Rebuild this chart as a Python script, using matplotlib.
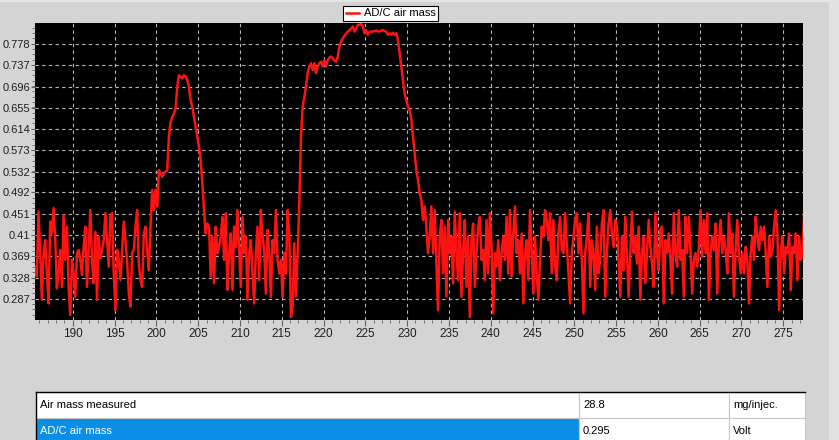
import numpy as np
import matplotlib.pyplot as plt
from matplotlib.patches import Rectangle
from matplotlib.ticker import MultipleLocator, AutoMinorLocator

plt.rcParams['font.family'] = ['Liberation Sans', 'DejaVu Sans']

# AD/C air mass signal (Volt), sampled every 0.2 s from t = 185.5
t_start = 185.5
t_step = 0.2
air_mass = [
    # idle, 185.5 .. 200.7
    0.349, 0.330, 0.455, 0.375, 0.285, 0.375, 0.400, 0.336, 0.278, 0.436,
    0.413, 0.462, 0.400, 0.307, 0.336, 0.381, 0.310, 0.448, 0.362, 0.426,
    0.310, 0.256, 0.362, 0.336, 0.291, 0.375, 0.381, 0.362, 0.333, 0.387,
    0.426, 0.310, 0.381, 0.458, 0.362, 0.317, 0.416, 0.285, 0.407, 0.365,
    0.381, 0.400, 0.452, 0.400, 0.349, 0.445, 0.452, 0.336, 0.265, 0.381,
    0.362, 0.323, 0.381, 0.436, 0.400, 0.359, 0.297, 0.272, 0.375, 0.381,
    0.426, 0.458, 0.355, 0.323, 0.310, 0.413, 0.426, 0.381, 0.342, 0.426,
    0.497, 0.458, 0.497, 0.465, 0.535, 0.529, 0.522,
    # first bump + idle
    0.529, 0.532, 0.535, 0.600, 0.628, 0.638, 0.644, 0.654, 0.696, 0.718,
    0.715, 0.712, 0.718, 0.715, 0.709, 0.696, 0.670, 0.657, 0.638, 0.619,
    0.600, 0.580, 0.555, 0.510, 0.458, 0.413, 0.432, 0.426, 0.330, 0.407,
    0.317, 0.426, 0.375, 0.387, 0.407, 0.445, 0.362, 0.452, 0.304, 0.375,
    0.413, 0.304, 0.426, 0.387, 0.458, 0.381, 0.310, 0.445, 0.375, 0.407,
    0.285, 0.375, 0.400, 0.336, 0.278, 0.375, 0.426, 0.323, 0.458, 0.407,
    0.381, 0.297, 0.420, 0.375, 0.291, 0.400, 0.375, 0.458, 0.362, 0.336,
    0.362, 0.291, 0.375, 0.336, 0.458, 0.413, 0.252,
    # second bump
    0.272, 0.394, 0.291, 0.375, 0.471, 0.600, 0.657, 0.677, 0.696, 0.722,
    0.735, 0.741, 0.728, 0.741, 0.722, 0.735, 0.741, 0.744, 0.735, 0.747,
    0.735, 0.747, 0.752, 0.754, 0.751, 0.746, 0.744, 0.754, 0.773, 0.783,
    0.789, 0.794, 0.798, 0.802, 0.805, 0.808, 0.812, 0.802, 0.808, 0.815,
    0.815, 0.817, 0.812, 0.799, 0.805, 0.796, 0.802, 0.802, 0.802, 0.803,
    0.804, 0.803, 0.802, 0.804, 0.805, 0.803, 0.802, 0.796, 0.799, 0.796,
    0.800, 0.796, 0.799, 0.786, 0.760, 0.735, 0.709, 0.683, 0.670, 0.657,
    0.651, 0.632, 0.600, 0.567, 0.535, 0.516, 0.490,
    # idle
    0.477, 0.439, 0.465, 0.426, 0.375, 0.407, 0.465, 0.375, 0.458, 0.355,
    0.265, 0.407, 0.439, 0.336, 0.426, 0.291, 0.439, 0.375, 0.407, 0.317,
    0.455, 0.375, 0.323, 0.452, 0.291, 0.381, 0.439, 0.310, 0.407, 0.252,
    0.400, 0.432, 0.310, 0.375, 0.426, 0.445, 0.362, 0.381, 0.323, 0.439,
    0.336, 0.452, 0.387, 0.259, 0.375, 0.349, 0.400, 0.323, 0.375, 0.407,
    0.362, 0.445, 0.336, 0.458, 0.330, 0.413, 0.465, 0.375, 0.400, 0.336,
    0.413, 0.278, 0.375, 0.400, 0.323, 0.458, 0.381, 0.297, 0.407, 0.336,
    0.285, 0.362, 0.426, 0.407, 0.458, 0.439, 0.400,
    0.452, 0.336, 0.439, 0.349, 0.323, 0.413, 0.445, 0.381, 0.375, 0.452,
    0.394, 0.336, 0.278, 0.375, 0.407, 0.439, 0.452, 0.375, 0.432, 0.362,
    0.259, 0.375, 0.407, 0.452, 0.310, 0.400, 0.375, 0.304, 0.426, 0.336,
    0.362, 0.432, 0.458, 0.291, 0.375, 0.432, 0.458, 0.413, 0.387, 0.439,
    0.426, 0.362, 0.291, 0.407, 0.342, 0.445, 0.375, 0.291, 0.375, 0.455,
    0.375, 0.407, 0.355, 0.426, 0.285, 0.375, 0.407, 0.317, 0.375, 0.439,
    0.387, 0.355, 0.310, 0.452, 0.375, 0.342, 0.420, 0.426, 0.278, 0.400,
    0.375, 0.413, 0.362, 0.297, 0.452, 0.375, 0.349,
    0.458, 0.362, 0.381, 0.291, 0.445, 0.375, 0.445, 0.381, 0.297, 0.362,
    0.375, 0.349, 0.387, 0.458, 0.368, 0.439, 0.375, 0.452, 0.285, 0.375,
    0.407, 0.381, 0.432, 0.297, 0.394, 0.439, 0.375, 0.407, 0.381, 0.336,
    0.452, 0.375, 0.413, 0.291, 0.381, 0.439, 0.375, 0.336, 0.375, 0.336,
    0.387, 0.362, 0.278, 0.375, 0.407, 0.362, 0.445, 0.407, 0.381, 0.426,
    0.400, 0.426, 0.375, 0.310, 0.407, 0.368, 0.381, 0.426, 0.458, 0.413,
    0.265, 0.375, 0.407, 0.336, 0.387, 0.375, 0.413, 0.304, 0.387, 0.375,
    0.413, 0.323, 0.407, 0.362, 0.375, 0.452, 0.439, 0.413,
]

y_ticks = [0.287, 0.328, 0.369, 0.41, 0.451, 0.492, 0.532, 0.573, 0.614,
           0.655, 0.696, 0.737, 0.778]
y_labels = ['0.287', '0.328', '0.369', '0.41', '0.451', '0.492', '0.532',
            '0.573', '0.614', '0.655', '0.696', '0.737', '0.778']
x_ticks = list(range(190, 280, 5))

table_rows = [
    ("Air mass measured", "28.8", "mg/injec."),
    ("AD/C air mass", "0.295", "Volt"),
]

W, H = 839, 440
BG = '#d4d4d4'
fig = plt.figure(figsize=(W / 100, H / 100), dpi=100, facecolor=BG)

# plot area
ax = fig.add_axes([35 / W, 1 - 320 / H, 768 / W, 297 / H])
ax.set_facecolor('black')
t = t_start + t_step * np.arange(len(air_mass))
ax.plot(t, air_mass, color='#ff1212', lw=1.8, label='AD/C air mass')
ax.set_xlim(185.48, 277.36)
ax.set_ylim(0.2461, 0.8187)
ax.set_xticks(x_ticks)
ax.set_yticks(y_ticks, y_labels)
ax.xaxis.set_minor_locator(MultipleLocator(1))
ax.yaxis.set_minor_locator(AutoMinorLocator(4))
ax.grid(True, which='major', color='#b8b8b8', linestyle=(0, (3, 3)), linewidth=0.8)
ax.tick_params(which='both', direction='out', color='#606060', labelcolor='#202020')
ax.tick_params(axis='x', which='major', length=4, labelsize=8.5, pad=2)
ax.tick_params(axis='y', which='major', length=3, labelsize=8, pad=0.5)
ax.tick_params(which='minor', length=2)
for s in ax.spines.values():
    s.set_visible(False)

leg = ax.legend(loc='lower center', bbox_to_anchor=(0.463, 1.006), borderaxespad=0,
                fancybox=False, framealpha=1, edgecolor='black', fontsize=8,
                handlelength=1.2, handletextpad=0.4, borderpad=0.25)
leg.get_frame().set_linewidth(0.8)

# table + window decoration in pixel coordinates
tab = fig.add_axes([0, 0, 1, 1])
tab.set_xlim(0, W)
tab.set_ylim(H, 0)
tab.axis('off')
tab.add_patch(Rectangle((829, 0), 10, H, color='#e2e2e2', lw=0))
tab.add_patch(Rectangle((0, 0), 829, 2, color='#e6e6e6', lw=0))

cols = [36, 579, 729, 805]
rows = [392, 418, 444]
for i, row in enumerate(table_rows):
    for j, txt in enumerate(row):
        sel = (i == 1 and j == 0)
        tab.add_patch(Rectangle((cols[j], rows[i]), cols[j + 1] - cols[j], rows[i + 1] - rows[i],
                                facecolor='#0b8fe6' if sel else 'white',
                                edgecolor='#c8c8c8', lw=0.8))
        tab.text(cols[j] + 4, (rows[i] + rows[i + 1]) / 2, txt, fontsize=8,
                 color='white' if sel else 'black', va='center', ha='left')
tab.plot([cols[0], cols[-1]], [rows[0], rows[0]], color='black', lw=1)
tab.plot([cols[0], cols[0]], [rows[0], H], color='black', lw=1)

fig.savefig('out.png', dpi=100, facecolor=BG)
